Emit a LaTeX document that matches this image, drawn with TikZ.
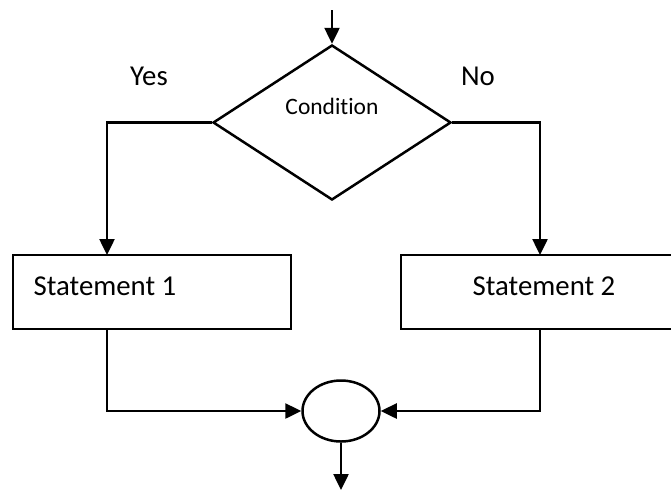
\documentclass[tikz,border=0pt]{standalone}
\usepackage{fontspec}
\setmainfont{Carlito}[Ligatures=CommonOff]
\usepackage{tikz}
\usetikzlibrary{shapes.geometric}
\usetikzlibrary{arrows.meta}

\tikzset{
	flow/.style={line width=2.5pt, -{Triangle[length=16pt, width=15pt]}},
	stmtbox/.style={draw, line width=2.5pt, shape=rectangle, minimum width=278pt, minimum height=74pt, inner sep=0pt},
	decision/.style={draw, line width=2.5pt, shape=diamond, minimum width=238pt, minimum height=155pt, inner sep=0pt},
	joint/.style={draw, line width=2.5pt, shape=ellipse, minimum width=77pt, minimum height=61pt, inner sep=0pt},
	bigtxt/.style={inner sep=0pt, font=\fontsize{28.8}{34}\selectfont},
	smalltxt/.style={inner sep=0pt, font=\fontsize{23.5}{28}\selectfont}
}

\begin{document}
\begin{tikzpicture}[x=1pt, y=-1pt]
	\useasboundingbox (0, 0) rectangle (671, 491);
	% Shapes:
	\node[decision](cond) at (332, 122.5){};
	\node[stmtbox](stmta) at (152, 292){};
	\node[stmtbox, minimum width=274pt](stmtb) at (538, 292){};
	\node[joint](join) at (341, 411){};
	% Texts:
	\node[smalltxt](condtext) at (332, 106){Condition};
	\node[bigtxt](yes) at (149, 76){Yes};
	\node[bigtxt](no) at (478, 76){No};
	\node[bigtxt](stmtatext) at (105, 286){Statement 1};
	\node[bigtxt](stmtbtext) at (544, 286){Statement 2};
	% Free ends of the wires:
	\coordinate (entry) at (332, 10);
	\coordinate (ina) at (107, 255);
	\coordinate (inb) at (540, 255);
	\coordinate (outa) at (107, 329);
	\coordinate (outb) at (540, 329);
	\coordinate (exit) at (341, 490);
	% Wires:
	\draw[flow] (entry) -- (cond.north);
	\draw[flow] (cond.west) -| (ina);
	\draw[flow] (cond.east) -| (inb);
	\draw[flow] (outa) |- (join.west);
	\draw[flow] (outb) |- (join.east);
	\draw[flow] (join.south) -- (exit);
\end{tikzpicture}
\end{document}
